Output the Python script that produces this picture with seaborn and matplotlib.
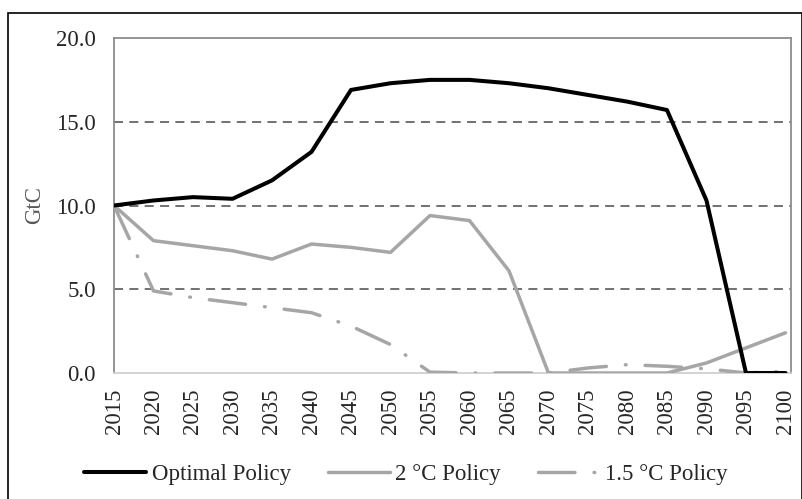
import numpy as np
import pandas as pd
import matplotlib.pyplot as plt
import seaborn as sns
from matplotlib.patches import Rectangle

years = list(range(2015, 2101, 5))
optimal = [10.0, 10.3, 10.5, 10.4, 11.5, 13.2, 16.9, 17.3, 17.5, 17.5,
           17.3, 17.0, 16.6, 16.2, 15.7, 10.3, 0.0, 0.0]
two_deg = [10.0, 7.9, 7.6, 7.3, 6.8, 7.7, 7.5, 7.2, 9.4, 9.1,
           6.1, 0.0, 0.0, 0.0, 0.0, 0.6, 1.5, 2.4]
one_five_deg = [10.0, 4.9, 4.5, 4.2, 3.9, 3.6, 2.8, 1.7, 0.05, 0.0,
                0.0, 0.0, 0.3, 0.5, 0.4, 0.25, 0.0, 0.1]
y_ticks = [0, 5, 10, 15, 20]

sns.set_style("white")
plt.rcParams['font.family'] = ['Liberation Serif', 'DejaVu Serif']
FS = 16.5

df = pd.DataFrame({'year': years, 'Optimal Policy': optimal,
                   '2 °C Policy': two_deg, '1.5 °C Policy': one_five_deg})

fig = plt.figure(figsize=(8.03, 4.99), dpi=100)
ax = fig.add_axes([114 / 803, 1 - 373 / 499, (791 - 114) / 803, (373 - 38) / 499])

# outer frame around the whole chart
fig.patches.append(Rectangle((8 / 803, -0.01), 794 / 803, 1 - 13 / 499 + 0.01,
                             transform=fig.transFigure, fill=False,
                             edgecolor='black', linewidth=1.2))

sns.lineplot(data=df, x='year', y='Optimal Policy', ax=ax, color='black',
             linewidth=2.9, label='Optimal Policy', zorder=4)
sns.lineplot(data=df, x='year', y='2 °C Policy', ax=ax, color='#a6a6a6',
             linewidth=2.5, label='2 °C Policy', zorder=3)
sns.lineplot(data=df, x='year', y='1.5 °C Policy', ax=ax, color='#a6a6a6',
             linewidth=2.5, linestyle=(0, (10.5, 5.5, 0.2, 5.5)),
             dash_capstyle='round', label='1.5 °C Policy', zorder=3)

for v in [5, 10, 15]:
    ax.axhline(v, color='#666666', linestyle=(0, (5, 3.5)), linewidth=1.3, zorder=1)

ax.set_xlim(2015, 2100.7)
ax.set_ylim(0, 20)
ax.set_xticks(years)
ax.set_xticklabels([str(y) for y in years], rotation=90, fontsize=FS)
ax.set_yticks(y_ticks)
ax.set_yticklabels([f'{v:.1f}' for v in y_ticks], fontsize=FS)
ax.tick_params(axis='x', length=0, pad=11)
ax.tick_params(axis='y', length=0, pad=13)
ax.set_xlabel('')
ax.set_ylabel('GtC', fontsize=FS, color='#595959', labelpad=8)

for side in ['left', 'top', 'right']:
    ax.spines[side].set_color('#8c8c8c')
    ax.spines[side].set_linewidth(1.3)
ax.spines['bottom'].set_color('#d0d0d0')
ax.spines['bottom'].set_linewidth(1.3)

ax.legend(loc='center', bbox_to_anchor=(406 / 803, 1 - 474 / 499),
          bbox_transform=fig.transFigure, ncol=3, frameon=False,
          fontsize=FS, handlelength=2.7, columnspacing=1.6, handletextpad=0.25)

fig.savefig('out.png', dpi=100)
